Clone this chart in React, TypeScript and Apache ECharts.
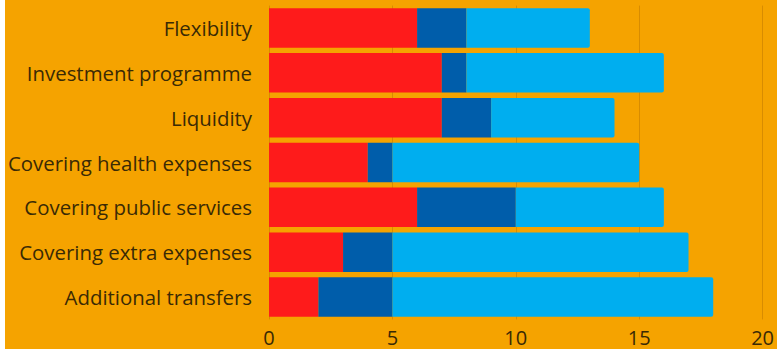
import React, { useEffect, useRef } from "react";
import * as echarts from "echarts";

const categories = [
  "Flexibility",
  "Investment programme",
  "Liquidity",
  "Covering health expenses",
  "Covering public services",
  "Covering extra expenses",
  "Additional transfers",
];
const redValues = [6, 7, 7, 4, 6, 3, 2];
const darkBlueValues = [2, 1, 2, 1, 4, 2, 3];
const lightBlueValues = [5, 8, 5, 10, 6, 12, 13];
const xTicks = [0, 5, 10, 15, 20];

export default function App() {
  const ref = useRef<HTMLDivElement>(null);
  useEffect(() => {
    if (!ref.current) return;
    const chart = echarts.init(ref.current, null, { renderer: "svg" });
    const textColor = "#3a2a05";
    const font = "'Open Sans', 'DejaVu Sans', sans-serif";
    chart.setOption({
      animation: false,
      backgroundColor: "#F5A300",
      grid: { left: 264, right: 13, top: 5.6, bottom: 29.6, containLabel: false },
      xAxis: {
        type: "value",
        min: xTicks[0],
        max: xTicks[xTicks.length - 1],
        interval: 5,
        axisLine: { show: false },
        axisTick: { show: false },
        axisLabel: {
          color: textColor,
          fontFamily: font,
          fontSize: 20,
          lineHeight: 20,
          margin: 8,
        },
        splitLine: { show: true, lineStyle: { color: "rgba(150,90,0,0.3)", width: 1 } },
      },
      yAxis: {
        type: "category",
        data: categories,
        inverse: true,
        axisLine: { show: false },
        axisTick: { show: false },
        axisLabel: {
          color: textColor,
          fontFamily: font,
          fontSize: 20.4,
          margin: 17,
        },
        splitLine: { show: false },
      },
      series: [
        {
          type: "bar",
          stack: "a",
          data: redValues,
          barCategoryGap: "12%",
          itemStyle: { color: "#FE1B1B" },
        },
        {
          type: "bar",
          stack: "a",
          data: darkBlueValues,
          barCategoryGap: "12%",
          itemStyle: { color: "#005DAA" },
        },
        {
          type: "bar",
          stack: "a",
          data: lightBlueValues,
          barCategoryGap: "12%",
          itemStyle: { color: "#00AEEF", borderRadius: [0, 2, 2, 0] },
        },
      ],
    });
    return () => chart.dispose();
  }, []);
  return (
    <div
      ref={ref}
      style={{ position: "absolute", left: 5, top: 0, width: 772, height: 349 }}
    />
  );
}
